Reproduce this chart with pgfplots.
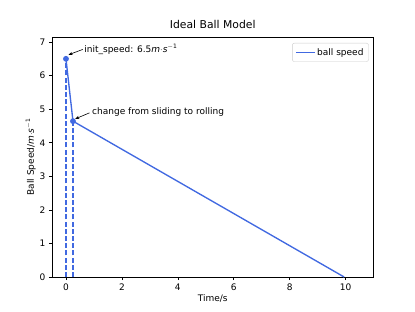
\documentclass[border=0pt]{standalone}
\usepackage{pgfplots}
\pgfplotsset{compat=1.18}
\usepackage{fontspec}
\setmainfont{DejaVu Sans}
\usetikzlibrary{arrows.meta}
\definecolor{royalblue}{HTML}{4169E1}
\begin{document}
\begin{tikzpicture}
\begin{axis}[
  name=ax,
  scale only axis,
  width=321.5pt, height=240pt,
  xmin=-0.5, xmax=11, ymin=0, ymax=7.15,
  xtick={0,2,4,6,8,10}, ytick={0,1,2,3,4,5,6,7},
  tick align=outside, major tick length=3.15pt,
  tick style={black, line width=0.6pt},
  axis line style={line width=0.6pt},
  xtick pos=bottom, ytick pos=left,
  /pgf/number format/assume math mode=true,
  tick label style={font=\fontsize{9}{10}\selectfont},
  label style={font=\fontsize{9}{10}\selectfont},
  title style={font=\fontsize{10.8}{12}\selectfont, yshift=-1pt},
  title={Ideal Ball Model},
  xlabel={Time/s},
  ylabel={Ball Speed/\textit{m}$\cdot$\textit{s}\textsuperscript{$-$1}},
  xlabel style={yshift=3pt},
  ylabel style={yshift=-3pt},
  legend style={at={(0.985,0.975)}, anchor=north east, draw=black!20, rounded corners=2pt,
    font=\fontsize{9}{10}\selectfont, inner xsep=3pt, inner ysep=3pt},
  legend cell align=left,
  legend image code/.code={\draw[#1, mark=none] (0cm,0cm) -- (0.65cm,0cm);},
]
\addplot[color=royalblue, line width=1.35pt, mark=*, mark size=2.2pt,
  mark indices={1,2}] coordinates {(0,6.5) (0.25,4.643) (9.95,0)};
\addlegendentry{ball speed}
\addplot[royalblue, line width=1.35pt, dash pattern=on 5pt off 2.2pt, forget plot] coordinates {(0,0) (0,6.5)};
\addplot[royalblue, line width=1.35pt, dash pattern=on 5pt off 2.2pt, forget plot] coordinates {(0.25,0) (0.25,4.643)};
\draw[-{Stealth[length=4pt,width=3pt]}, black, line width=0.6pt] (axis cs:0.6,6.78) -- (axis cs:0.09,6.62);
\node[anchor=west, font=\fontsize{9}{10}\selectfont, inner sep=0pt] at (axis cs:0.65,6.79) {init\_speed: 6.5\textit{m}$\cdot$\textit{s}\textsuperscript{$-$1}};
\draw[-{Stealth[length=4pt,width=3pt]}, black, line width=0.6pt] (axis cs:0.84,4.89) -- (axis cs:0.33,4.71);
\node[anchor=west, font=\fontsize{9}{10}\selectfont, inner sep=0pt] at (axis cs:0.93,4.92) {change from sliding to rolling};
\end{axis}
\path (ax.south west) ++(-52pt,-34pt) coordinate (bl);
\path (ax.north east) ++(41.5pt,37pt) coordinate (tr);
\path[use as bounding box] (bl) rectangle (tr);
\end{tikzpicture}
\end{document}
